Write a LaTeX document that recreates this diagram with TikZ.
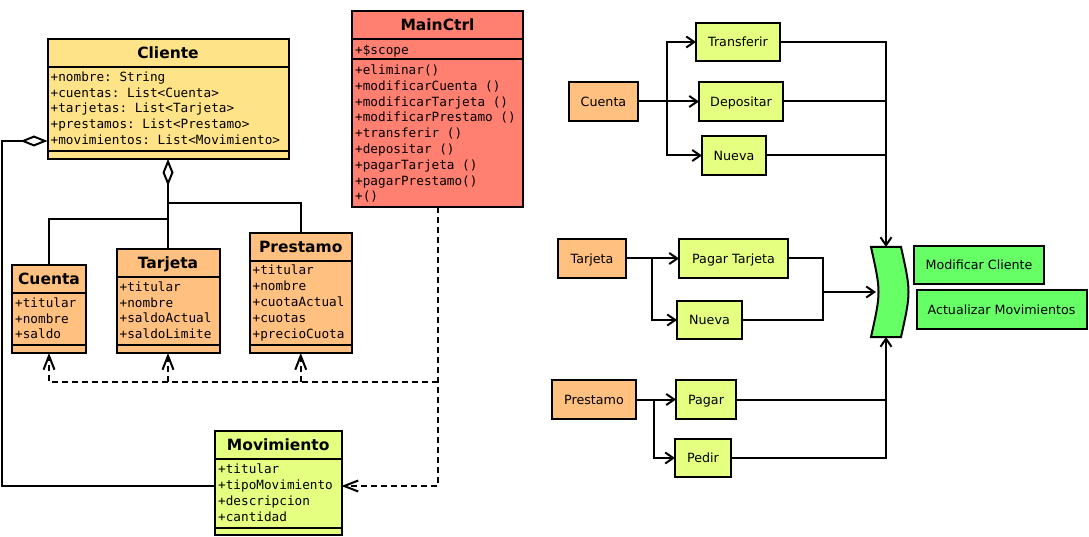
\documentclass[tikz,border=0pt]{standalone}
\usepackage{fontspec}
\setmainfont{DejaVu Sans}
\setmonofont{DejaVu Sans Mono}
\usetikzlibrary{arrows.meta}
\definecolor{cyel}{RGB}{255,227,136}
\definecolor{corange}{RGB}{255,192,128}
\definecolor{csalmon}{RGB}{255,128,112}
\definecolor{clgreen}{RGB}{229,255,128}
\definecolor{cgreen}{RGB}{102,255,102}
\begin{document}
\begin{tikzpicture}[x=1pt,y=-1pt,
  lw/.style={line width=2pt},
  cls/.style={draw, lw, inner sep=0pt, outer sep=0pt, anchor=north west},
  ttl/.style={font=\fontsize{15.5}{18}\selectfont\bfseries, anchor=base, inner sep=0pt},
  attr/.style={font=\fontsize{12.7}{15.8}\selectfont\ttfamily, anchor=base west, inner sep=0pt},
  fb/.style={draw, lw, inner sep=0pt, outer sep=0pt, text height=9.3pt, text depth=0pt, font=\fontsize{12.7}{15}\selectfont},
  fa/.style={lw, -{Straight Barb[length=8pt,width=11pt]}},
  dep/.style={lw, dash pattern=on 6pt off 4pt, -{Straight Barb[length=14pt,width=11pt]}},
  agg/.style={lw, -{Diamond[open,length=27pt,width=11pt]}}
]
\useasboundingbox (0,0) rectangle (1089,537);

% ---------------- UML classes ----------------
% Cliente
\node[cls, fill=cyel, minimum width=241pt, minimum height=120pt] (cliente) at (47.5,39) {};
\node[ttl] (clienteT) at (168,58.7) {Cliente};
\draw[lw] (cliente.west |- 0,67) -- (cliente.east |- 0,67)
          (cliente.west |- 0,151) -- (cliente.east |- 0,151);
\foreach \t [count=\i] in {+nombre: String,+cuentas: List<Cuenta>,+tarjetas: List<Tarjeta>,+prestamos: List<Prestamo>,+movimientos: List<Movimiento>}
  \node[attr] (cliA\i) at (50.5,{81.5+15.75*(\i-1)}) {\t};

% MainCtrl
\node[cls, fill=csalmon, minimum width=171pt, minimum height=196pt] (mainctrl) at (352,11) {};
\node[ttl] (mainctrlT) at (437.5,31) {MainCtrl};
\draw[lw] (mainctrl.west |- 0,39) -- (mainctrl.east |- 0,39)
          (mainctrl.west |- 0,59) -- (mainctrl.east |- 0,59);
\node[attr] (mcS) at (355,54.5) {+\$scope};
\foreach \t [count=\i] in {+eliminar(),+modificarCuenta (),+modificarTarjeta (),+modificarPrestamo (),+transferir (),+depositar (),+pagarTarjeta (),+pagarPrestamo(),+()}
  \node[attr] (mcM\i) at (355,{74.5+15.8*(\i-1)}) {\t};

% Cuenta
\node[cls, fill=corange, minimum width=74pt, minimum height=88pt] (cuenta) at (12,265) {};
\node[ttl] (cuentaT) at (49,284.5) {Cuenta};
\draw[lw] (cuenta.west |- 0,293) -- (cuenta.east |- 0,293)
          (cuenta.west |- 0,345) -- (cuenta.east |- 0,345);
\foreach \t [count=\i] in {+titular,+nombre,+saldo}
  \node[attr] (cuA\i) at (15,{307.2+15.8*(\i-1)}) {\t};

% Tarjeta
\node[cls, fill=corange, minimum width=103pt, minimum height=104pt] (tarjeta) at (116.5,249) {};
\node[ttl] (tarjetaT) at (168,268.5) {Tarjeta};
\draw[lw] (tarjeta.west |- 0,277) -- (tarjeta.east |- 0,277)
          (tarjeta.west |- 0,345) -- (tarjeta.east |- 0,345);
\foreach \t [count=\i] in {+titular,+nombre,+saldoActual,+saldoLimite}
  \node[attr] (taA\i) at (119.5,{291.2+15.8*(\i-1)}) {\t};

% Prestamo
\node[cls, fill=corange, minimum width=102.5pt, minimum height=120pt] (prestamo) at (249.5,233) {};
\node[ttl] (prestamoT) at (300.75,252.5) {Prestamo};
\draw[lw] (prestamo.west |- 0,261) -- (prestamo.east |- 0,261)
          (prestamo.west |- 0,345) -- (prestamo.east |- 0,345);
\foreach \t [count=\i] in {+titular,+nombre,+cuotaActual,+cuotas,+precioCuota}
  \node[attr] (prA\i) at (252.5,{275+15.8*(\i-1)}) {\t};

% Movimiento
\node[cls, fill=clgreen, minimum width=126.5pt, minimum height=104pt] (movimiento) at (215,431) {};
\node[ttl] (movimientoT) at (278.25,450.7) {Movimiento};
\draw[lw] (movimiento.west |- 0,459) -- (movimiento.east |- 0,459)
          (movimiento.west |- 0,528) -- (movimiento.east |- 0,528);
\foreach \t [count=\i] in {+titular,+tipoMovimiento,+descripcion,+cantidad}
  \node[attr] (moA\i) at (218,{473.8+15.8*(\i-1)}) {\t};

% UML connectors
\draw[agg] (movimiento.west |- 0,486) -| (2,141) -- (cliente.west |- 0,141);
\draw[agg] (tarjeta.north) -- (tarjeta.north |- cliente.south);
\draw[lw] (cuenta.north) |- (tarjeta.north |- 0,219);
\draw[lw] (prestamo.north) |- (tarjeta.north |- 0,203);
\draw[dep] (mainctrl.south) |- (movimiento.east |- 0,486);
\draw[dep] (mainctrl.south |- 0,382) -| (cuenta.south);
\draw[dep] (tarjeta.south |- 0,382) -- (tarjeta.south);
\draw[dep] (prestamo.south |- 0,382) -- (prestamo.south);

% ---------------- Flow part ----------------
\node[fb, fill=corange, minimum width=69pt, minimum height=39pt] (rcuenta) at (603.5,101.5) {Cuenta};
\node[fb, fill=clgreen, minimum width=84pt, minimum height=38pt] (transferir) at (738,42) {Transferir};
\node[fb, fill=clgreen, minimum width=84pt, minimum height=39pt] (depositar) at (741,101.5) {Depositar};
\node[fb, fill=clgreen, minimum width=64pt, minimum height=39pt] (nuevaC) at (734,155.5) {Nueva};
\node[fb, fill=corange, minimum width=68pt, minimum height=39pt] (rtarjeta) at (592,258.5) {Tarjeta};
\node[fb, fill=clgreen, minimum width=109pt, minimum height=39pt] (pagarT) at (733.5,258.5) {Pagar Tarjeta};
\node[fb, fill=clgreen, minimum width=65pt, minimum height=38pt] (nuevaT) at (709.5,320) {Nueva};
\node[fb, fill=corange, minimum width=84pt, minimum height=39pt] (rprestamo) at (594,399.5) {Prestamo};
\node[fb, fill=clgreen, minimum width=60pt, minimum height=39pt] (pagar) at (706,399.5) {Pagar};
\node[fb, fill=clgreen, minimum width=56pt, minimum height=38pt] (pedir) at (703,458) {Pedir};
\node[fb, fill=cgreen, minimum width=130pt, minimum height=38pt] (modcli) at (979,265) {Modificar Cliente};
\node[fb, fill=cgreen, minimum width=170pt, minimum height=39pt] (actmov) at (1001.5,309.5) {Actualizar Movimientos};

% merge shape
\node[inner sep=0pt, outer sep=0pt, minimum width=30pt, minimum height=90pt] (merge) at (886,292) {};
\draw[lw, fill=cgreen] (merge.north west) .. controls ([xshift=10pt]merge.west) .. (merge.south west)
  -- (merge.south east) .. controls ([xshift=10pt]merge.east) .. (merge.north east) -- cycle;

% Cuenta branch
\coordinate (b1) at (667,101.5);
\draw[lw] (rcuenta.east) -- (b1);
\draw[fa] (b1) -- (depositar.west);
\draw[fa] (b1) |- (transferir.west);
\draw[fa] (b1) |- (nuevaC.west);
\draw[fa] (transferir.east) -| (merge.north);
\draw[lw] (depositar.east) -- (depositar.east -| merge.north);
\draw[lw] (nuevaC.east) -- (nuevaC.east -| merge.north);

% Tarjeta branch
\coordinate (b2) at (652,258.5);
\draw[lw] (rtarjeta.east) -- (b2);
\draw[fa] (b2) -- (pagarT.west);
\draw[fa] (b2) |- (nuevaT.west);
\coordinate (j2) at (823,292);
\draw[lw] (pagarT.east) -| (j2) |- (nuevaT.east);
\draw[fa] (j2) -- ([xshift=5pt]merge.west);

% Prestamo branch
\coordinate (b3) at (654,399.5);
\draw[lw] (rprestamo.east) -- (b3);
\draw[fa] (b3) -- (pagar.west);
\draw[fa] (b3) |- (pedir.west);
\draw[fa] (pedir.east) -| (merge.south);
\draw[lw] (pagar.east) -- (pagar.east -| merge.south);
\end{tikzpicture}
\end{document}
